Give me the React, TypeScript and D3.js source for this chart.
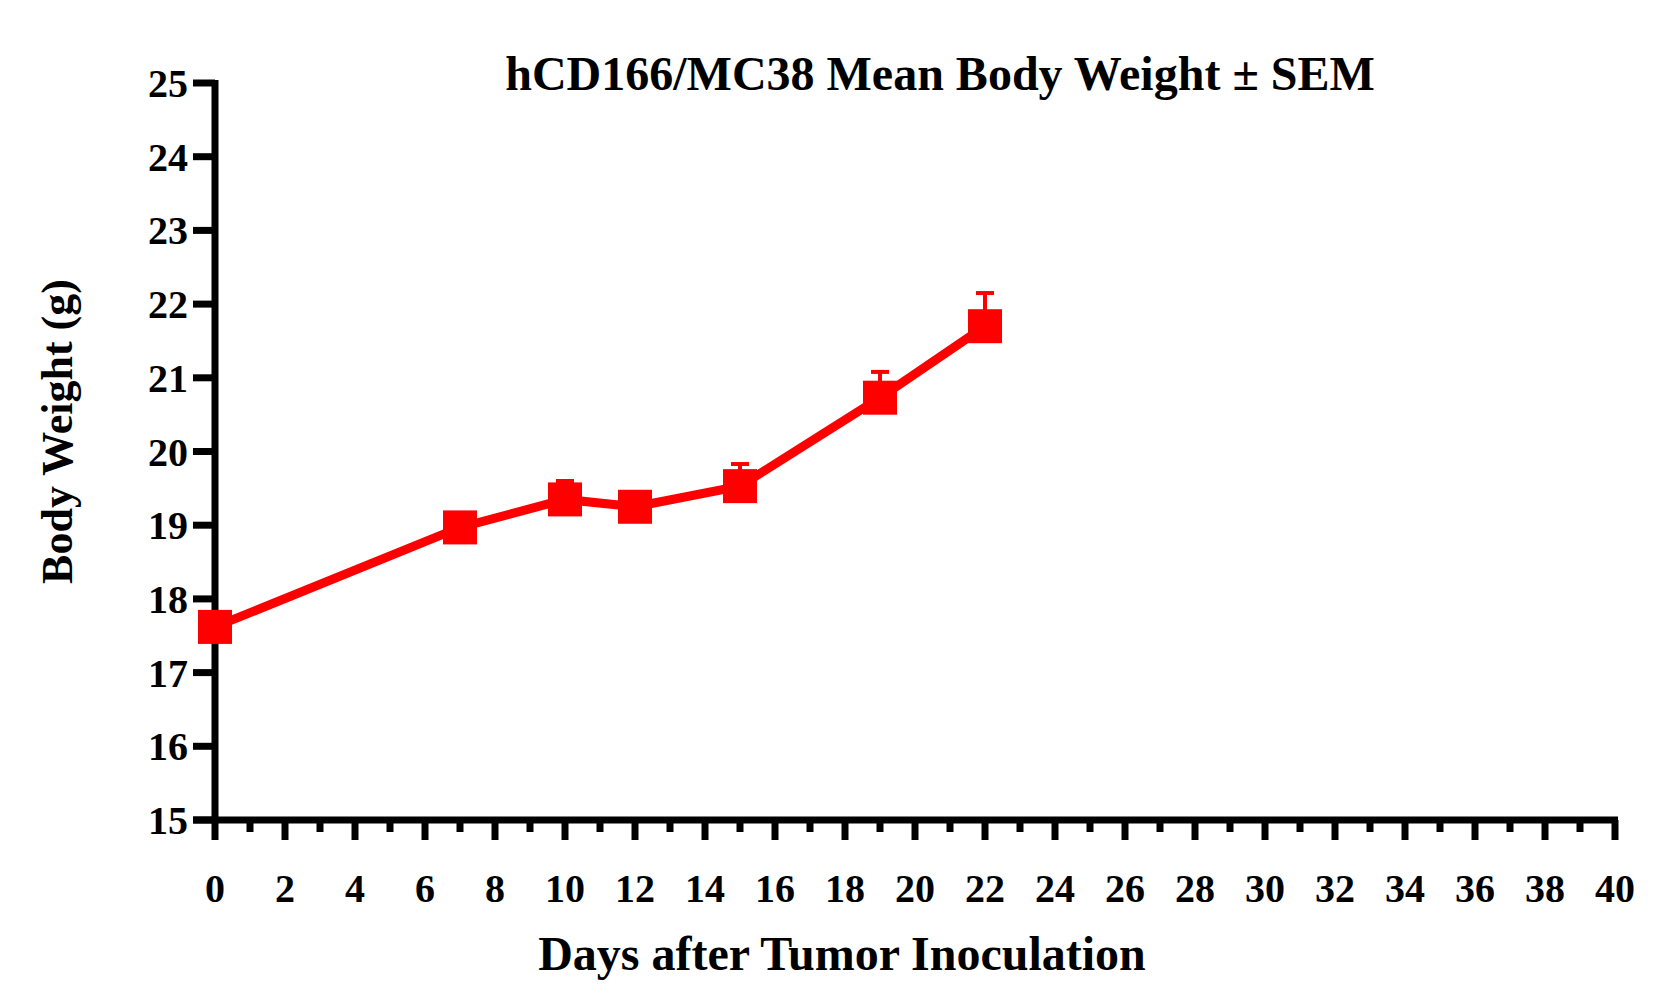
import React from 'react';
import * as d3 from 'd3';

const days = [0, 7, 10, 12, 15, 19, 22];
const weights = [17.62, 18.97, 19.35, 19.25, 19.53, 20.73, 21.7];
const sem = [0.05, 0.1, 0.25, 0.12, 0.3, 0.35, 0.45];
const xTicks = d3.range(0, 41, 2);
const xMinor = d3.range(1, 40, 2);
const yTicks = d3.range(15, 26, 1);

const App: React.FC = () => {
  const width = 1678;
  const height = 994;
  const x = d3.scaleLinear().domain([0, 40]).range([215, 1615]);
  const y = d3.scaleLinear().domain([15, 25]).range([820, 83]);
  const line = d3
    .line<number>()
    .x((d, i) => x(days[i]))
    .y((d) => y(d));
  const font = 'Liberation Serif, Times New Roman, serif';
  const ms = 34;

  return (
    <svg
      width={width}
      height={height}
      style={{ position: 'absolute', left: 0, top: 0, background: '#fff' }}
      fontFamily={font}
      fontWeight="bold"
    >
      <text x={940} y={90} fontSize={48} textAnchor="middle">
        hCD166/MC38 Mean Body Weight ± SEM
      </text>
      {/* y axis */}
      <line x1={x(0)} x2={x(0)} y1={y(25) - 3} y2={y(15) + 3} stroke="#000" strokeWidth={7} />
      {yTicks.map((t) => (
        <g key={t}>
          <line x1={x(0) - 22} x2={x(0)} y1={y(t)} y2={y(t)} stroke="#000" strokeWidth={7} />
          <text x={x(0) - 27} y={y(t) + 14} fontSize={40} textAnchor="end">
            {t}
          </text>
        </g>
      ))}
      {/* x axis */}
      <line x1={x(0) - 22} x2={x(40) + 3} y1={y(15)} y2={y(15)} stroke="#000" strokeWidth={7} />
      {xTicks.map((t) => (
        <g key={t}>
          <line x1={x(t)} x2={x(t)} y1={y(15)} y2={y(15) + 20} stroke="#000" strokeWidth={7} />
          <text x={x(t)} y={902} fontSize={40} textAnchor="middle">
            {t}
          </text>
        </g>
      ))}
      {xMinor.map((t) => (
        <line key={t} x1={x(t)} x2={x(t)} y1={y(15)} y2={y(15) + 12} stroke="#000" strokeWidth={7} />
      ))}
      <text x={842} y={970} fontSize={48} textAnchor="middle">
        Days after Tumor Inoculation
      </text>
      <text
        transform={`translate(72, ${y(20) - 20}) rotate(-90)`}
        fontSize={44}
        textAnchor="middle"
      >
        Body Weight (g)
      </text>
      {/* error bars */}
      {days.map((d, i) => (
        <g key={d} stroke="red" strokeWidth={4}>
          <line x1={x(d)} x2={x(d)} y1={y(weights[i])} y2={y(weights[i] + sem[i])} />
          <line x1={x(d) - 9} x2={x(d) + 9} y1={y(weights[i] + sem[i])} y2={y(weights[i] + sem[i])} />
        </g>
      ))}
      <path d={line(weights) || ''} fill="none" stroke="red" strokeWidth={9} />
      {days.map((d, i) => (
        <rect key={d} x={x(d) - ms / 2} y={y(weights[i]) - ms / 2} width={ms} height={ms} fill="red" />
      ))}
    </svg>
  );
};

export default App;
